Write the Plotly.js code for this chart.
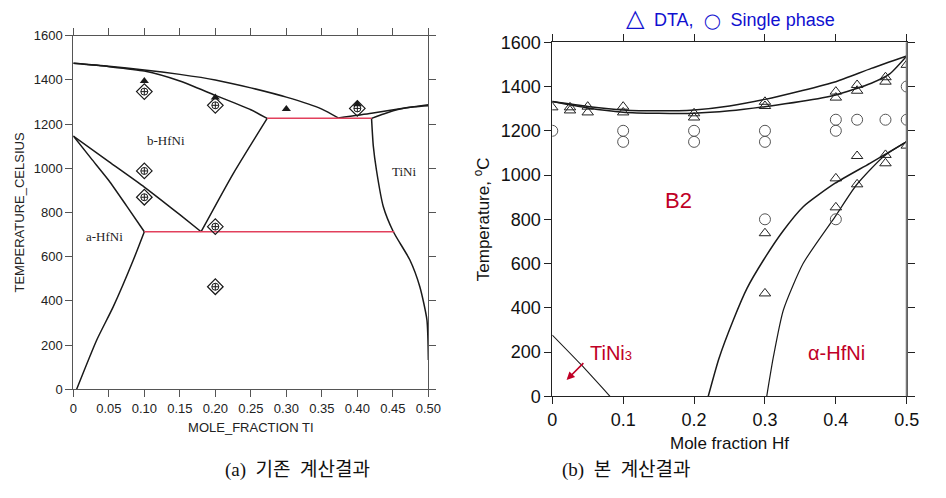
<!DOCTYPE html>
<html>
<head>
<meta charset="utf-8">
<script src="https://cdn.plot.ly/plotly-3.0.1.min.js"></script>
<style>html,body{margin:0;padding:0;background:#fff;}#chart{width:946px;height:498px;}</style>
</head>
<body>
<div id="chart"></div>
<script>
// ---------- (a) previous calculation: Hf-Ni-Ti section vs mole fraction Ti ----------
const aLiqUpperX = [0, 0.05, 0.1, 0.15, 0.2, 0.25, 0.3, 0.35, 0.373];
const aLiqUpperY = [1475, 1462, 1445, 1425, 1400, 1364, 1322, 1268, 1228];
const aSolidusX = [0, 0.05, 0.1, 0.15, 0.2, 0.25, 0.273];
const aSolidusY = [1475, 1460, 1440, 1395, 1330, 1265, 1226];
const aBRightX = [0.273, 0.225, 0.18];
const aBRightY = [1226, 975, 713];
const aBLeftX = [0, 0.05, 0.1, 0.15, 0.18];
const aBLeftY = [1146, 1030, 915, 790, 713];
const aSteepX = [0, 0.025, 0.05, 0.075, 0.1];
const aSteepY = [1146, 1045, 945, 830, 713];
const aAlphaX = [0.1, 0.0845, 0.0563, 0.033, 0.0047];
const aAlphaY = [713, 585, 374, 223, 0];
const aTiNiX = [0.42, 0.4225, 0.427, 0.4366, 0.4507, 0.474, 0.488, 0.498, 0.5];
const aTiNiY = [1226, 1100, 990, 826, 713, 585, 464, 314, 133];
const aLiqRightX = [0.373, 0.42, 0.46, 0.5];
const aLiqRightY = [1228, 1249, 1270, 1288];
const aSolRightX = [0.42, 0.437, 0.46, 0.48, 0.5];
const aSolRightY = [1226, 1246, 1268, 1278, 1283];
const aEutLowX = [0.1, 0.452];
const aEutLowY = [713, 713];
const aEutHighX = [0.273, 0.42];
const aEutHighY = [1226, 1226];
const aTriX = [0.1, 0.2, 0.3, 0.4];
const aTriY = [1395, 1320, 1268, 1290];
const aDiaX = [0.1, 0.1, 0.1, 0.2, 0.2, 0.2, 0.4];
const aDiaY = [1347, 988, 869, 1285, 736, 464, 1271];
const aXTickVals = [0, 0.05, 0.1, 0.15, 0.2, 0.25, 0.3, 0.35, 0.4, 0.45, 0.5];
const aXTickText = ['0', '0.05', '0.10', '0.15', '0.20', '0.25', '0.30', '0.35', '0.40', '0.45', '0.50'];
const yTickVals = [0, 200, 400, 600, 800, 1000, 1200, 1400, 1600];

// ---------- (b) this calculation: vs mole fraction Hf ----------
const bUpper1X = [0, 0.05, 0.1, 0.15, 0.2, 0.25, 0.3, 0.35, 0.4, 0.45, 0.5];
const bUpper1Y = [1332, 1310, 1294, 1290, 1294, 1312, 1342, 1380, 1422, 1482, 1538];
const bUpper2X = [0, 0.05, 0.1, 0.15, 0.2, 0.25, 0.3, 0.35, 0.4, 0.45, 0.476, 0.5];
const bUpper2Y = [1332, 1303, 1284, 1279, 1279, 1290, 1309, 1332, 1362, 1415, 1457, 1538];
const bLower1X = [0.22, 0.235, 0.2554, 0.275, 0.298, 0.325, 0.354, 0.399, 0.448, 0.5];
const bLower1Y = [0, 170, 345, 490, 616, 745, 857, 963, 1053, 1151];
const bLower2X = [0.3025, 0.312, 0.326, 0.354, 0.399, 0.429, 0.467, 0.5];
const bLower2Y = [0, 180, 390, 601, 812, 955, 1083, 1151];
const bTiNi3X = [0, 0.04, 0.0814];
const bTiNi3Y = [277, 145, 0];
const bTriX = [0, 0.025, 0.025, 0.05, 0.05, 0.1, 0.1, 0.2, 0.2, 0.3, 0.3, 0.3, 0.3,
               0.4, 0.4, 0.4, 0.4, 0.43, 0.43, 0.43, 0.43, 0.47, 0.47, 0.47, 0.47, 0.5, 0.5];
const bTriY = [1306, 1306, 1292, 1309, 1283, 1309, 1283, 1279, 1260, 1331, 1312, 737, 465,
               1377, 1350, 985, 854, 1407, 1381, 1086, 958, 1442, 1422, 1091, 1053, 1498, 1133];
const bCircX = [0, 0.1, 0.1, 0.2, 0.2, 0.3, 0.3, 0.3, 0.4, 0.4, 0.4, 0.43, 0.47, 0.5, 0.5];
const bCircY = [1200, 1200, 1150, 1200, 1150, 1200, 1150, 800, 1250, 1200, 800, 1250, 1250, 1400, 1250];
const bXTickVals = [0, 0.1, 0.2, 0.3, 0.4, 0.5];
const bXTickText = ['0', '0.1', '0.2', '0.3', '0.4', '0.5'];

const black = '#1a1a1a';
const red = '#e2405c';
const darkRed = '#c00026';

function line(x, y, xa, ya, color, width) {
  return {x: x, y: y, xaxis: xa, yaxis: ya, mode: 'lines', type: 'scatter',
          line: {color: color, width: width, shape: 'spline', smoothing: 0.6},
          hoverinfo: 'skip', showlegend: false};
}
function straight(x, y, xa, ya, color, width) {
  return {x: x, y: y, xaxis: xa, yaxis: ya, mode: 'lines', type: 'scatter',
          line: {color: color, width: width}, hoverinfo: 'skip', showlegend: false};
}

const traces = [
  line(aLiqUpperX, aLiqUpperY, 'x', 'y', black, 1.5),
  line(aSolidusX, aSolidusY, 'x', 'y', black, 1.5),
  line(aBRightX, aBRightY, 'x', 'y', black, 1.5),
  line(aBLeftX, aBLeftY, 'x', 'y', black, 1.5),
  line(aSteepX, aSteepY, 'x', 'y', black, 1.5),
  line(aAlphaX, aAlphaY, 'x', 'y', black, 1.5),
  line(aTiNiX, aTiNiY, 'x', 'y', black, 1.5),
  line(aLiqRightX, aLiqRightY, 'x', 'y', black, 1.5),
  line(aSolRightX, aSolRightY, 'x', 'y', black, 1.5),
  straight(aEutLowX, aEutLowY, 'x', 'y', red, 1.5),
  straight(aEutHighX, aEutHighY, 'x', 'y', red, 1.5),
  {x: aTriX, y: aTriY, xaxis: 'x', yaxis: 'y', mode: 'markers', type: 'scatter', showlegend: false,
   marker: {symbol: 'triangle-up', size: 8, color: black}},
  {x: aDiaX, y: aDiaY, xaxis: 'x', yaxis: 'y', mode: 'markers', type: 'scatter', showlegend: false,
   marker: {symbol: 'diamond-open', size: 12, color: black, line: {width: 1.2}}},
  {x: aDiaX, y: aDiaY, xaxis: 'x', yaxis: 'y', mode: 'markers', type: 'scatter', showlegend: false,
   marker: {symbol: 'circle-cross-open', size: 7, color: black, line: {width: 1}}},

  line(bUpper1X, bUpper1Y, 'x2', 'y2', black, 1.5),
  line(bUpper2X, bUpper2Y, 'x2', 'y2', black, 1.5),
  line(bLower1X, bLower1Y, 'x2', 'y2', black, 1.5),
  line(bLower2X, bLower2Y, 'x2', 'y2', black, 1.2),
  line(bTiNi3X, bTiNi3Y, 'x2', 'y2', black, 1.1),
  {x: bCircX, y: bCircY, xaxis: 'x2', yaxis: 'y2', mode: 'markers', type: 'scatter', showlegend: false,
   marker: {symbol: 'circle-open', size: 11, color: '#555', line: {width: 1}}},
  {x: bTriX, y: bTriY, xaxis: 'x2', yaxis: 'y2', mode: 'markers', type: 'scatter', showlegend: false,
   marker: {symbol: 'triangle-up-open', size: 10, color: '#222', line: {width: 1}}}
];

const axisCommon = {showgrid: false, zeroline: false, showline: true, mirror: 'ticks',
                    ticks: 'outside', ticklen: 7, tickwidth: 1};

const layout = {
  width: 946, height: 498,
  margin: {l: 0, r: 0, t: 0, b: 0},
  paper_bgcolor: '#fff', plot_bgcolor: '#fff',
  showlegend: false,
  title: {text: '<span style="font-size:24px">△</span>  DTA,  <span style="font-size:15px">◯</span>  Single phase',
          x: 0.772, xanchor: 'center', y: 0.960, yanchor: 'middle',
          font: {family: 'Liberation Sans, Arial, sans-serif', size: 18, color: '#1010d0'}},
  xaxis: Object.assign({}, axisCommon, {
    domain: [0.0775, 0.4528], anchor: 'y', range: [0, 0.5],
    tickvals: aXTickVals, ticktext: aXTickText, linecolor: '#555', tickcolor: '#555',
    tickfont: {family: 'Liberation Sans, Arial, sans-serif', size: 13, color: '#222'},
    title: {text: 'MOLE_FRACTION TI', standoff: 8,
            font: {family: 'Liberation Sans, Arial, sans-serif', size: 13, color: '#222'}}
  }),
  yaxis: Object.assign({}, axisCommon, {
    domain: [0.2183, 0.9283], anchor: 'x', range: [0, 1600],
    tickvals: yTickVals, linecolor: '#555', tickcolor: '#555',
    tickfont: {family: 'Liberation Sans, Arial, sans-serif', size: 13, color: '#222'},
    title: {text: 'TEMPERATURE_CELSIUS', standoff: 6,
            font: {family: 'Liberation Sans, Arial, sans-serif', size: 13, color: '#222'}}
  }),
  xaxis2: Object.assign({}, axisCommon, {
    domain: [0.5838, 0.9585], anchor: 'y2', range: [0, 0.5],
    tickvals: bXTickVals, ticktext: bXTickText, linecolor: '#222', tickcolor: '#222',
    tickfont: {family: 'Liberation Sans, Arial, sans-serif', size: 18, color: '#111'},
    title: {text: 'Mole fraction Hf', standoff: 8,
            font: {family: 'Liberation Sans, Arial, sans-serif', size: 17, color: '#111'}}
  }),
  yaxis2: Object.assign({}, axisCommon, {
    domain: [0.2042, 0.9151], anchor: 'x2', range: [0, 1600],
    tickvals: yTickVals, linecolor: '#222', tickcolor: '#222',
    tickfont: {family: 'Liberation Sans, Arial, sans-serif', size: 18, color: '#111'},
    title: {text: 'Temperature, <sup>o</sup>C', standoff: 6,
            font: {family: 'Liberation Sans, Arial, sans-serif', size: 17, color: '#111'}}
  }),
  annotations: [
    {xref: 'x', yref: 'y', x: 0.13, y: 1128, text: 'b-HfNi', showarrow: false,
     font: {family: 'Liberation Serif, serif', size: 13, color: '#222'}},
    {xref: 'x', yref: 'y', x: 0.0446, y: 691, text: 'a-HfNi', showarrow: false,
     font: {family: 'Liberation Serif, serif', size: 13, color: '#222'}},
    {xref: 'x', yref: 'y', x: 0.466, y: 985, text: 'TiNi', showarrow: false,
     font: {family: 'Liberation Serif, serif', size: 13, color: '#222'}},
    {xref: 'x2', yref: 'y2', x: 0.178, y: 887, text: 'B2', showarrow: false,
     font: {family: 'Liberation Sans, Arial, sans-serif', size: 22, color: darkRed}},
    {xref: 'x2', yref: 'y2', x: 0.0823, y: 194, text: 'TiNi<span style="font-size:13px">3</span>', showarrow: false,
     font: {family: 'Liberation Sans, Arial, sans-serif', size: 20, color: darkRed}},
    {xref: 'x2', yref: 'y2', x: 0.401, y: 194, text: 'α-HfNi', showarrow: false,
     font: {family: 'Liberation Sans, Arial, sans-serif', size: 20, color: darkRed}},
    {xref: 'x2', yref: 'y2', axref: 'x2', ayref: 'y2', x: 0.0202, y: 74, ax: 0.046, ay: 157,
     text: '', showarrow: true, arrowhead: 2, arrowsize: 1, arrowwidth: 1.6, arrowcolor: darkRed},
    {xref: 'paper', yref: 'paper', x: 223 / 946, y: 0.056, yanchor: 'middle', text: '(a)  기존  계산결과', showarrow: false,
     font: {family: 'Liberation Serif, Noto Sans CJK KR, serif', size: 19, color: '#111'}},
    {xref: 'paper', yref: 'paper', x: 693 / 946, y: 0.056, yanchor: 'middle', text: '(b)  본  계산결과', showarrow: false,
     font: {family: 'Liberation Serif, Noto Sans CJK KR, serif', size: 19, color: '#111'}}
  ],
  shapes: [
    {type: 'line', xref: 'paper', yref: 'paper', x0: 0.9585, x1: 0.9585, y0: 0.2042, y1: 0.9151,
     line: {color: '#777', width: 2}}
  ]
};

Plotly.newPlot('chart', traces, layout, {displayModeBar: false, staticPlot: true});
</script>
</body>
</html>
